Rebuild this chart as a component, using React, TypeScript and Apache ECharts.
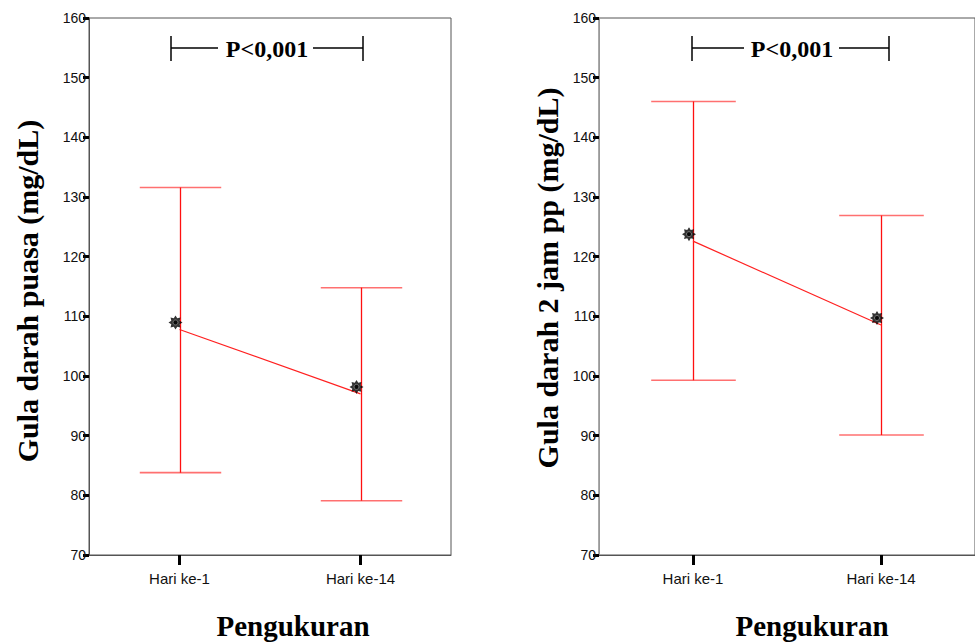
import React, { useEffect, useRef } from "react";
import * as echarts from "echarts";

const categories = ["Hari ke-1", "Hari ke-14"];
// Left panel: Gula darah puasa
const puasaMean = [107.8, 97.0];
const puasaLow = [83.8, 79.1];
const puasaHigh = [131.6, 114.8];
// Right panel: Gula darah 2 jam pp
const ppMean = [122.6, 108.55];
const ppLow = [99.3, 90.1];
const ppHigh = [146.0, 126.9];

const yTitles = ["Gula darah puasa (mg/dL)", "Gula darah 2 jam pp (mg/dL)"];
const xTitle = "Pengukuran";
const pText = "P<0,001";

const STAR =
  "path://M20 10 L16 12.49 L17.07 17.07 L12.49 16 L10 20 L7.51 16 L2.93 17.07 L4 12.49 L0 10 L4 7.51 L2.93 2.93 L7.51 4 L10 0 L12.49 4 L17.07 2.93 L16 7.51 Z";

const SANS = '"Liberation Sans", Arial, sans-serif';
const SERIF = '"Liberation Serif", "Times New Roman", serif';

function errorSeries(idx: number, low: number[], high: number[]) {
  return {
    type: "custom",
    xAxisIndex: idx,
    yAxisIndex: idx,
    z: 2,
    clip: false,
    itemStyle: { color: "#ff2a2a" },
    data: categories.map((_, i) => [i, low[i], high[i]]),
    renderItem: (params: any, api: any) => {
      const x = api.value(0);
      const lo = api.coord([x, api.value(1)]);
      const hi = api.coord([x, api.value(2)]);
      const half = api.size([1, 0])[0] * 0.225;
      const cx = Math.round(lo[0]) + 0.5;
      return {
        type: "group",
        children: [
          {
            type: "polyline",
            shape: { points: [[cx, hi[1]], [cx, lo[1]]] },
            style: { stroke: "#ff1010", lineWidth: 1.3, fill: null },
            z2: 10,
          },
          {
            type: "polyline",
            shape: { points: [[cx - half, hi[1]], [cx + half, hi[1]]] },
            style: { stroke: "#ff7070", lineWidth: 1.6, fill: null },
          },
          {
            type: "polyline",
            shape: { points: [[cx - half, lo[1]], [cx + half, lo[1]]] },
            style: { stroke: "#ff7070", lineWidth: 1.6, fill: null },
          },
        ],
      };
    },
  };
}

function meanSeries(idx: number, mean: number[]) {
  return [
    {
      type: "line",
      xAxisIndex: idx,
      yAxisIndex: idx,
      data: mean,
      showSymbol: false,
      z: 3,
      lineStyle: { color: "#ff2020", width: 1.2 },
    },
    {
      type: "scatter",
      xAxisIndex: idx,
      yAxisIndex: idx,
      data: mean,
      symbol: STAR,
      symbolSize: 14,
      symbolOffset: [-4, -7],
      z: 4,
      itemStyle: { color: "#000" },
    },
    {
      type: "scatter",
      xAxisIndex: idx,
      yAxisIndex: idx,
      data: mean,
      symbol: "circle",
      symbolSize: 5,
      symbolOffset: [-4, -7],
      z: 5,
      itemStyle: { color: "#000", borderColor: "#888", borderWidth: 1 },
    },
  ];
}

function bracket(x1: number, x2: number, t1: number, t2: number, tx: number) {
  const y = 48;
  const st = { stroke: "#000", lineWidth: 1.5 };
  return [
    { type: "line", shape: { x1, y1: 36, x2: x1, y2: 61 }, style: st },
    { type: "line", shape: { x1: x2, y1: 36, x2, y2: 61 }, style: st },
    { type: "line", shape: { x1, y1: y, x2: t1, y2: y }, style: st },
    { type: "line", shape: { x1: t2, y1: y, x2, y2: y }, style: st },
    {
      type: "text",
      x: tx,
      y: y + 1,
      style: {
        text: pText,
        fontFamily: SERIF,
        fontWeight: "bold",
        fontSize: 24,
        fill: "#000",
        align: "center",
        verticalAlign: "middle",
      },
    },
  ];
}

export default function App() {
  const ref = useRef<HTMLDivElement>(null);
  useEffect(() => {
    if (!ref.current) return;
    const chart = echarts.init(ref.current, undefined, { renderer: "svg" });
    const xAxisBase = (idx: number) => ({
      type: "category",
      gridIndex: idx,
      data: categories,
      boundaryGap: true,
      axisLine: { show: true, lineStyle: { color: "#555", width: 1 } },
      axisTick: {
        show: true,
        alignWithLabel: true,
        length: 10,
        lineStyle: { color: "#000", width: 3 },
      },
      axisLabel: { fontFamily: SANS, fontSize: 15, color: "#111", margin: 16 },
      splitLine: { show: false },
    });
    const yAxisBase = (idx: number, lineColor: string) => ({
      type: "value",
      gridIndex: idx,
      min: 70,
      max: 160,
      interval: 10,
      axisLine: { show: true, lineStyle: { color: lineColor, width: 1 } },
      axisTick: { show: true, length: 6, lineStyle: { color: "#000", width: 3 } },
      axisLabel: { fontFamily: SANS, fontSize: 14, color: "#111", margin: 3 },
      splitLine: { show: false },
    });
    const titleStyle = {
      fontFamily: SERIF,
      fontWeight: "bold",
      fill: "#000",
      align: "center",
      verticalAlign: "middle",
    };
    chart.setOption({
      animation: false,
      backgroundColor: "#fff",
      grid: [
        { left: 89, top: 18, width: 362, height: 537, show: true, borderColor: "#555", borderWidth: 1 },
        { left: 599, top: 18, width: 388, height: 537, show: true, borderColor: "#555", borderWidth: 1 },
      ],
      xAxis: [xAxisBase(0), xAxisBase(1)],
      yAxis: [yAxisBase(0, "#555"), yAxisBase(1, "#999")],
      series: [
        errorSeries(0, puasaLow, puasaHigh),
        ...meanSeries(0, puasaMean),
        errorSeries(1, ppLow, ppHigh),
        ...meanSeries(1, ppMean),
      ],
      graphic: [
        ...bracket(171, 363, 218, 313, 267),
        ...bracket(692, 889, 744, 839, 792),
        {
          type: "text",
          x: 27,
          y: 291,
          rotation: Math.PI / 2,
          style: { ...titleStyle, text: yTitles[0], fontSize: 30 },
        },
        {
          type: "text",
          x: 547,
          y: 278,
          rotation: Math.PI / 2,
          style: { ...titleStyle, text: yTitles[1], fontSize: 30 },
        },
        {
          type: "text",
          x: 293,
          y: 626,
          style: { ...titleStyle, text: xTitle, fontSize: 29 },
        },
        {
          type: "text",
          x: 812,
          y: 626,
          style: { ...titleStyle, text: xTitle, fontSize: 29 },
        },
      ],
    });
    return () => chart.dispose();
  }, []);
  return (
    <div
      ref={ref}
      style={{ position: "absolute", left: 0, top: 0, width: 975, height: 644 }}
    />
  );
}
